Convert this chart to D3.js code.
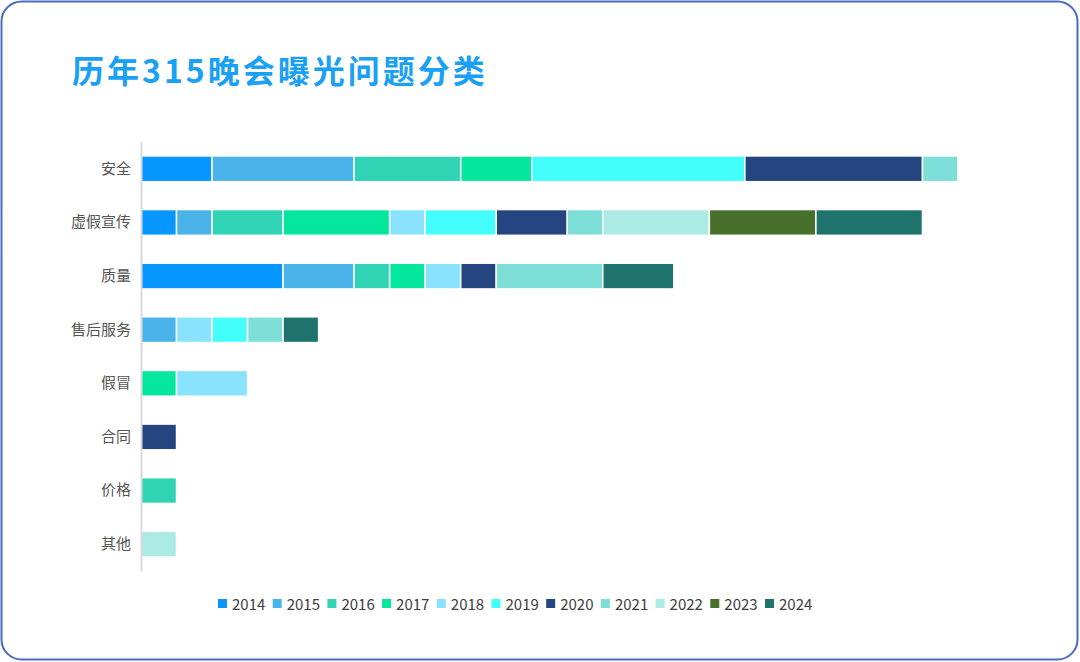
<!DOCTYPE html>
<html>
<head>
<meta charset="utf-8">
<script src="https://cdn.jsdelivr.net/npm/d3@7"></script>
<style>
  body { margin: 0; background: #fff; }
  svg { display: block; font-family: "Noto Sans CJK SC", "Noto Sans", sans-serif; }
</style>
</head>
<body>
<svg id="chart" width="1080" height="662"></svg>
<script>
// categories, top to bottom
let categories = ["安全", "虚假宣传", "质量", "售后服务", "假冒", "合同", "价格", "其他"]
let years = ["2014", "2015", "2016", "2017", "2018", "2019", "2020", "2021", "2022", "2023", "2024"]
let colors = ["#0797fe", "#4ab3ea", "#31d3b5", "#05e79c", "#89e2fe", "#44fefc",
              "#244580", "#7edfd8", "#abeae5", "#47702a", "#1e736c"]

// count per category, one array per year
let v2014 = [2, 1, 4, 0, 0, 0, 0, 0]
let v2015 = [4, 1, 2, 1, 0, 0, 0, 0]
let v2016 = [3, 2, 1, 0, 0, 0, 1, 0]
let v2017 = [2, 3, 1, 0, 1, 0, 0, 0]
let v2018 = [0, 1, 1, 1, 2, 0, 0, 0]
let v2019 = [6, 2, 0, 1, 0, 0, 0, 0]
let v2020 = [5, 2, 1, 0, 0, 1, 0, 0]
let v2021 = [1, 1, 3, 1, 0, 0, 0, 0]
let v2022 = [0, 3, 0, 0, 0, 0, 0, 1]
let v2023 = [0, 3, 0, 0, 0, 0, 0, 0]
let v2024 = [0, 3, 2, 1, 0, 0, 0, 0]

let series = [v2014, v2015, v2016, v2017, v2018, v2019, v2020, v2021, v2022, v2023, v2024]

let svg = d3.select("#chart")

// card border
svg.append("rect")
    .attr("x", 1.5).attr("y", 1.5)
    .attr("width", 1076).attr("height", 658)
    .attr("rx", 20)
    .attr("fill", "#fff")
    .attr("stroke", "#4a6cc0")
    .attr("stroke-width", 2)

svg.append("text")
    .attr("x", 72).attr("y", 83)
    .attr("fill", "#1aa0f5")
    .attr("font-size", 32)
    .attr("font-weight", "bold")
    .attr("letter-spacing", 3)
    .text("历年315晚会曝光问题分类")

let table = categories.map((c, i) => {
    let row = {cat: c}
    years.forEach((y, j) => row[y] = series[j][i])
    return row
})

let stacked = d3.stack().keys(years)(table)

let x = d3.scaleLinear().domain([0, 23]).range([141, 958])
let y = d3.scaleBand().domain(categories).range([142, 571]).paddingInner(0.52).paddingOuter(0.26)
let color = d3.scaleOrdinal().domain(years).range(colors)

svg.append("g")
    .selectAll("g")
    .data(stacked).enter()
    .append("g")
    .attr("fill", d => color(d.key))
    .selectAll("rect")
    .data(d => d.filter(s => s[1] > s[0]))
    .enter()
    .append("rect")
    .attr("x", d => x(d[0]))
    .attr("y", d => y(d.data.cat))
    .attr("width", d => x(d[1]) - x(d[0]))
    .attr("height", y.bandwidth())
    .attr("stroke", "#fff")
    .attr("stroke-width", 1.5)

let yAxis = svg.append("g")
    .attr("transform", "translate(141,0)")
    .call(d3.axisLeft(y).tickSize(0).tickPadding(10))
yAxis.select(".domain").attr("stroke", "#d9d9d9").attr("stroke-width", 2)
yAxis.selectAll("text")
    .attr("font-size", 15)
    .attr("fill", "#555")
    .style("font-family", "'Noto Sans CJK SC', sans-serif")

// legend
let legend = svg.append("g")
    .selectAll("g")
    .data(years).enter()
    .append("g")
    .attr("transform", (d, i) => "translate(" + (218 + i * 54.7) + ",604)")

legend.append("rect")
    .attr("x", 0).attr("y", -5)
    .attr("width", 9).attr("height", 9)
    .attr("fill", d => color(d))

legend.append("text")
    .attr("x", 14).attr("y", 5.5)
    .attr("font-size", 15)
    .attr("fill", "#404040")
    .text(d => d)
</script>
</body>
</html>
